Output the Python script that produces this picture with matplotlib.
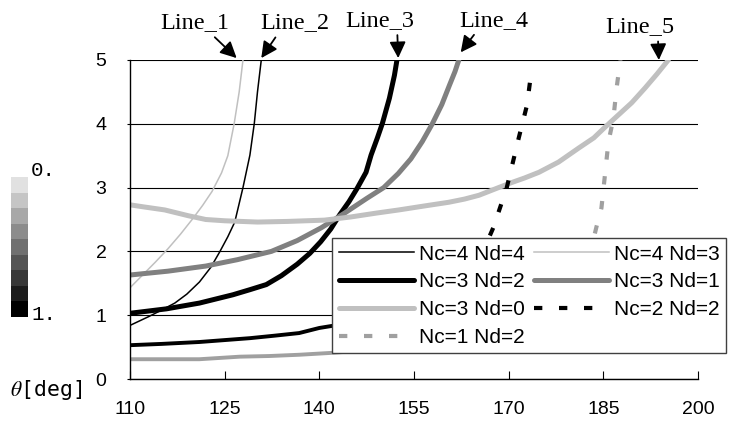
import numpy as np
import matplotlib.pyplot as plt

plt.rcParams['font.family'] = ['Liberation Sans', 'DejaVu Sans']
plt.rcParams['mathtext.fontset'] = 'stix'

# theta [deg] against x for each (Nc, Nd) case
x_44 = [110, 113, 115, 117.1, 119, 121, 122.8, 124.2, 125.5, 126.6, 127.9,
        129.0, 129.7, 130.2, 130.8]
y_44 = [0.84, 0.98, 1.08, 1.19, 1.33, 1.52, 1.75, 1.99, 2.23, 2.46, 3.0,
        3.51, 4.01, 4.5, 5.0]

x_43 = [110, 112, 114, 116, 118, 120, 121.5, 123, 124.5, 125.5, 126.5, 127.3, 127.9]
y_43 = [1.43, 1.63, 1.83, 2.04, 2.27, 2.52, 2.72, 2.94, 3.23, 3.5, 4.0, 4.5, 5.0]

x_32 = [110, 115.8, 121, 126.3, 129, 131.6, 134, 136.5, 138.5, 140.2, 141.8,
        143.2, 144.7, 146, 147.4, 148.2, 149.2, 150, 151.1, 151.9, 152.3]
y_32 = [1.03, 1.10, 1.19, 1.32, 1.40, 1.48, 1.62, 1.80, 1.97, 2.15, 2.35,
        2.57, 2.78, 2.99, 3.24, 3.51, 3.78, 4.01, 4.4, 4.76, 5.0]

x_31 = [110, 116, 122, 127, 132.4, 136.5, 140.3, 144, 147.5, 150.2, 152.5,
        154.5, 156.3, 157.9, 159.4, 160.6, 161.5, 162.1]
y_31 = [1.63, 1.69, 1.77, 1.87, 2.0, 2.17, 2.37, 2.6, 2.83, 3.0, 3.22,
        3.45, 3.72, 4.0, 4.3, 4.6, 4.82, 5.0]

x_30 = [110, 112, 115.5, 119.2, 122, 125, 130.2, 135, 140.8, 145, 149, 152.6,
        156.5, 160.5, 163, 165.3, 168.4, 170.5, 172.5, 174.8, 177.9, 181.1,
        183.5, 185.3, 187.4, 189.5, 191.6, 193.5, 195.3]
y_30 = [2.73, 2.70, 2.65, 2.56, 2.5, 2.48, 2.46, 2.47, 2.49, 2.54, 2.6, 2.65,
        2.71, 2.77, 2.82, 2.88, 3.0, 3.08, 3.15, 3.24, 3.4, 3.62,
        3.78, 3.95, 4.14, 4.33, 4.56, 4.78, 5.0]

x_22 = [110, 115, 121, 125, 129, 133, 136.8, 140, 145, 150, 155, 160, 163,
        165.5, 167.6, 169.7, 171.6, 172.9, 173.7]
y_22 = [0.53, 0.55, 0.58, 0.61, 0.64, 0.68, 0.72, 0.8, 0.88, 0.98, 1.1, 1.3,
        1.55, 1.9, 2.38, 3.0, 3.78, 4.29, 4.9]

x_12 = [110, 115, 121, 127.4, 132, 136.8, 142, 147.4, 154.2, 160, 165, 170,
        175, 179, 182, 183.9, 184.7, 185.3, 185.8, 186.6, 187.1, 187.7]
y_12 = [0.31, 0.31, 0.31, 0.35, 0.36, 0.38, 0.41, 0.45, 0.53, 0.56, 0.62,
        0.72, 0.88, 1.15, 1.6, 2.38, 2.68, 3.24, 3.71, 4.09, 4.56, 5.0]

labels = ['Nc=4 Nd=4', 'Nc=4 Nd=3', 'Nc=3 Nd=2', 'Nc=3 Nd=1',
          'Nc=3 Nd=0', 'Nc=2 Nd=2', 'Nc=1 Nd=2']

shade_levels = [0.12, 0.23, 0.34, 0.45, 0.56, 0.67, 0.78, 0.89, 1.0]

W, H = 738, 425
fig = plt.figure(figsize=(W / 100, H / 100), dpi=100)
ax = fig.add_axes([130 / W, 1 - 379 / H, 568 / W, 319 / H])

h = []
h += ax.plot(x_44, y_44, color='black', lw=1.1)
h += ax.plot(x_43, y_43, color='#c0c0c0', lw=1.1)
h += ax.plot(x_32, y_32, color='black', lw=3.6, solid_capstyle='round')
h += ax.plot(x_31, y_31, color='#808080', lw=3.6, solid_capstyle='round')
h += ax.plot(x_30, y_30, color='#c0c0c0', lw=3.6, solid_capstyle='round')

# dense low part looks solid in the original, steep part is dashed
ax.plot(x_22[:9], y_22[:9], color='black', lw=2.8)
h += ax.plot(x_22[8:], y_22[8:], color='black', lw=3, ls=(0, (2, 4)))
ax.plot(x_12[:11], y_12[:11], color='#a0a0a0', lw=2.8)
h += ax.plot(x_12[10:], y_12[10:], color='#a0a0a0', lw=3, ls=(0, (2, 4)))

ax.set_xlim(110, 200)
ax.set_ylim(0, 5)
ax.set_xticks(np.arange(110, 201, 15))
ax.set_yticks(range(0, 6))
ax.grid(axis='y', color='black', lw=0.8)
ax.set_axisbelow(True)
for s in ['top', 'right']:
    ax.spines[s].set_visible(False)
for s in ['left', 'bottom']:
    ax.spines[s].set_linewidth(1.0)
ax.tick_params(axis='x', direction='in', length=5.5, width=0.8, pad=16, labelsize=14)
ax.tick_params(axis='y', direction='out', length=2, width=0.8, pad=15, labelsize=14)

# annotations at the top
arrow = dict(arrowstyle='-|>,head_length=0.7,head_width=0.35', color='black',
             lw=1.3, mutation_scale=14, shrinkA=1, shrinkB=0)
tops = [('Line_1', 126.9, 5.03, 120.3, 5.58, 0.73),
        ('Line_2', 130.8, 5.03, 136.1, 5.58, 0.26),
        ('Line_3', 152.5, 5.03, 149.5, 5.62, 0.76),
        ('Line_4', 162.4, 5.12, 167.6, 5.62, 0.26),
        ('Line_5', 193.8, 5.0, 190.8, 5.52, 0.76)]
for name, xa, ya, xt, yt, rp in tops:
    ax.annotate(name, xy=(xa, ya), xytext=(xt, yt), ha='center', va='center',
                fontsize=17.5, family='Liberation Serif', annotation_clip=False,
                arrowprops=dict(arrow, relpos=(rp, 0.0)))

order = [0, 2, 4, 6, 1, 3, 5]
leg = fig.legend([h[i] for i in order], [labels[i] for i in order],
                 loc='upper left', bbox_to_anchor=(322 / W, 1 - 228 / H),
                 ncol=2, fontsize=15, handlelength=3.6, handletextpad=0.25,
                 columnspacing=0.45, labelspacing=0.42, borderpad=0.3,
                 fancybox=False, framealpha=1, edgecolor='#404040')
leg.get_frame().set_linewidth(1.0)

# grey scale key on the left
cax = fig.add_axes([11 / W, 1 - 317 / H, 17 / W, 140 / H])
cax.imshow(np.array(shade_levels)[:, None], cmap='gray_r', vmin=0, vmax=1,
           aspect='auto', interpolation='nearest')
cax.axis('off')
fig.text(31 / W, 1 - 171 / H, '0.', fontsize=15, family='Liberation Mono', va='center')
fig.text(31 / W, 1 - 315 / H, '1.', fontsize=15, family='Liberation Mono', va='center')
fig.text(10 / W, 1 - 390 / H, r'$\theta$[deg]', fontsize=15.5,
         family='DejaVu Sans Mono', va='center')

fig.savefig('out.png', dpi=100)
